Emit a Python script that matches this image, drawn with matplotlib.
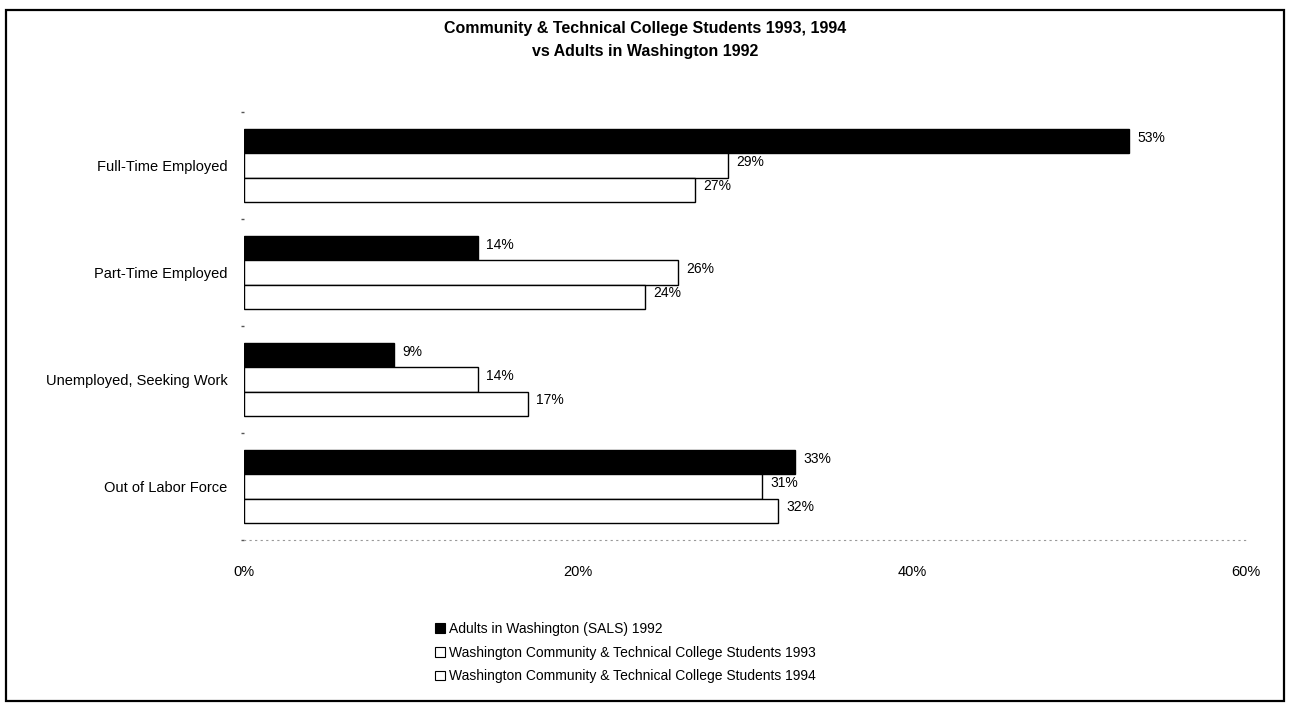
import matplotlib
matplotlib.use("Agg")
import matplotlib.pyplot as plt
from matplotlib.patches import Rectangle, Patch
import numpy as np

plt.rcParams['font.family'] = ['Liberation Sans Narrow', 'Liberation Sans', 'DejaVu Sans']

categories = ["Full-Time Employed", "Part-Time Employed", "Unemployed, Seeking Work", "Out of Labor Force"]
series_names = ["Adults in Washington (SALS) 1992",
                "Washington Community & Technical College Students 1993",
                "Washington Community & Technical College Students 1994"]
adults_1992 = [53, 14, 9, 33]
students_1993 = [29, 26, 14, 31]
students_1994 = [27, 24, 17, 32]
x_ticks = [0, 20, 40, 60]
x_tick_labels = ["0%", "20%", "40%", "60%"]
title = "Community & Technical College Students 1993, 1994\nvs Adults in Washington 1992"

fig = plt.figure(figsize=(12.9, 7.04), dpi=100)
ax = fig.add_axes([244/1290, 1-540/704, (1246-244)/1290, (540-112)/704])

n = len(categories)
y = np.arange(n)
h = 0.225
series = [adults_1992, students_1993, students_1994]
faces = ["black", "white", "white"]
for i, (vals, fc) in enumerate(zip(series, faces)):
    pos = y + (i - 1) * h
    ax.barh(pos, vals, height=h, color=fc, edgecolor="black", linewidth=1.0, zorder=3)
    for p, v in zip(pos, vals):
        ax.text(v + 0.5, p - 0.03, f"{v}%", ha="left", va="center", fontsize=10, color="black")

ax.set_ylim(n - 0.5, -0.5)
ax.set_xlim(0, 60)
ax.set_yticks(y)
ax.set_yticklabels(categories, fontsize=10.5)
ax.tick_params(axis="y", length=0, pad=12)
ax.set_xticks(x_ticks)
ax.set_xticklabels(x_tick_labels, fontsize=10.5)
ax.tick_params(axis="x", length=0, pad=18)
for s in ["top", "right", "left"]:
    ax.spines[s].set_visible(False)
ax.spines["bottom"].set_linestyle((0, (1, 4)))
ax.spines["bottom"].set_color("#999999")
ax.spines["bottom"].set_linewidth(0.8)
# small boundary marks on the category axis
ax.set_yticks(np.arange(-0.5, n, 1.0), minor=True)
ax.tick_params(axis="y", which="minor", length=2, color="#555555", width=1)

fig.text(0.5, 1-40/704, title, ha="center", va="center", fontsize=11.5,
         fontweight="bold", linespacing=1.6)

handles = [Patch(facecolor=fc, edgecolor="black", linewidth=0.8) for fc in faces]
fig.legend(handles, series_names, loc="upper left", bbox_to_anchor=(428/1290, 1-615/704),
           frameon=False, fontsize=10, handlelength=0.7, handleheight=0.7,
           handletextpad=0.3, labelspacing=0.7, borderpad=0)

fig.add_artist(Rectangle((6/1290, 3/704), 1278/1290, 691/704, transform=fig.transFigure,
                         fill=False, edgecolor="black", linewidth=1.6))

fig.savefig("out.png", dpi=100, facecolor="white")
